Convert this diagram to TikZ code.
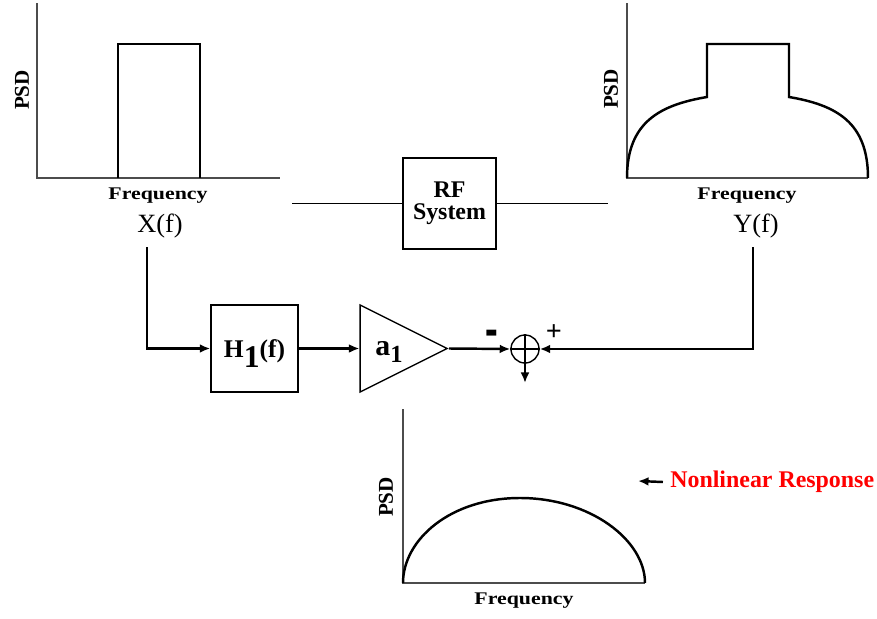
\documentclass[tikz,border=0pt]{standalone}
\usepackage{fontspec}
\setmainfont{Liberation Serif}
\usetikzlibrary{arrows.meta, positioning, shapes.geometric}

\newcommand{\fsz}[1]{\fontsize{#1}{#1}\selectfont}
\newcommand{\lowone}[2]{\raisebox{-#2}[0pt][0pt]{\fsz{#1}1}}
\newcommand{\nodepth}[1]{\raisebox{0pt}[\height][0pt]{#1}}

\begin{document}
\begin{tikzpicture}[x=0.02cm, y=-0.02cm, >={Latex[length=6pt,width=5pt]}]
    \useasboundingbox (0,0) rectangle (877,619);
    \tikzset{
        axis/.style={gray!60!black, line width=0.6pt},
        psd/.style={line width=1.4pt},
        sig/.style={line width=1.4pt},
        blk/.style={draw, line width=0.8pt, inner sep=0pt, align=center, font=\bfseries},
        lab/.style={font=\bfseries\fsz{12}},
        frq/.style={font=\bfseries\fsz{11}},
        sgn/.style={font=\bfseries\fsz{16}}
    }

    % input spectrum
    \draw[axis] (37,3) -- (37,178) -- (280,178);
    \draw[psd] (118,178) -- (118,44) -- (200,44) -- (200,178);
    \node[lab, rotate=90] (psdx) at (22,90) {PSD};
    \node[frq] (frqx) at (158,196) {\scalebox{1.13}[0.92]{Frequency}};
    \node[font=\fsz{15}] (xf) at (160,226) {X(f)};

    % output spectrum
    \draw[axis] (627,3) -- (627,178) -- (868,178);
    \draw[psd] (627,178) .. controls (627,122) and (660,105) .. (707,97)
        -- (707,44) -- (789,44) -- (789,97)
        .. controls (836,105) and (868,122) .. (868,178);
    \node[lab, rotate=90] (psdy) at (611,89) {PSD};
    \node[frq] (frqy) at (747,196) {\scalebox{1.13}[0.92]{Frequency}};
    \node[font=\fsz{15}] (yf) at (756,226) {Y(f)};

    % RF system
    \node[blk, minimum width=1.86cm, minimum height=1.82cm, font=\bfseries\fsz{13.6}] (rf) at (449.5,203.5) {RF\\[-1pt]System};
    \coordinate (rfin) at (292,203.5);
    \coordinate (rfout) at (608,203.5);
    \draw[line width=0.8pt] (rfin) -- (rf.west);
    \draw[line width=0.8pt] (rf.east) -- (rfout);

    % model branch
    \node[blk, minimum width=1.74cm, minimum height=1.74cm] (h1) at (254.5,348.5) {\fsz{14.5}\nodepth{H\lowone{18}{5.5pt}(f)}};
    \node[draw, line width=0.8pt, isosceles triangle, isosceles triangle stretches, minimum width=1.74cm, minimum height=1.74cm, inner sep=0pt, anchor=apex] (amp) at (449,348.5) {};
    \node[font=\bfseries\fsz{17}] (a1) at (389,348) {\nodepth{a\lowone{14}{4.5pt}}};
    \node[draw, circle, line width=0.8pt, minimum size=0.56cm, inner sep=0pt] (sum) at (525,349) {};
    \draw[line width=0.8pt] (sum.north) -- (sum.south) (sum.west) -- (sum.east);
    \node[font=\bfseries\fsz{18}] (minus) at (492,340) {\scalebox{1.2}[2.2]{-}};
    \node[sgn] (plus) at (554,333) {+};

    \coordinate (xin) at (147,247);
    \coordinate (yin) at (753,247);
    \coordinate (err) at (525,383);
    \draw[sig, ->] (xin) |- (h1.west);
    \draw[sig, ->] (h1.east) -- (amp.west);
    \draw[sig, ->] (amp.apex) -- (sum.west);
    \draw[sig, ->] (yin) |- (sum.east);
    \draw[sig, ->] (sum.south) -- (err);

    % nonlinear part
    \draw[axis] (403,409) -- (403,583) -- (645,583);
    \draw[psd] (403,583) .. controls (403,540) and (450,498) .. (520,498)
        .. controls (590,498) and (645,540) .. (645,583);
    \node[lab, rotate=90] (psdn) at (386,497) {PSD};
    \node[frq] (frqn) at (524,601) {\scalebox{1.13}[0.92]{Frequency}};
    \node[font=\bfseries\fsz{13.6}, text=red, anchor=west, inner sep=0pt] (nl) at (670,482) {Nonlinear Response};
    \coordinate (nltip) at (638,481);
    \draw[sig, ->] ([xshift=-4pt]nl.west) -- (nltip);
\end{tikzpicture}
\end{document}
